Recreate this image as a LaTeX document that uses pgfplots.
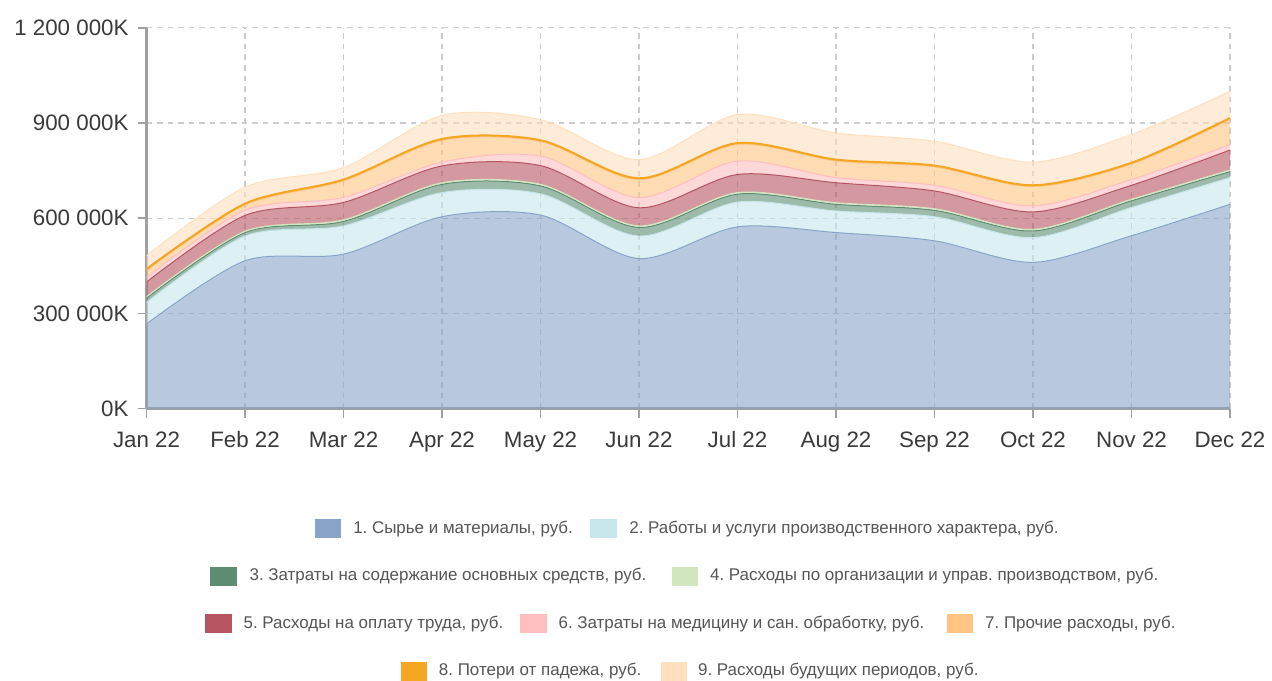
\documentclass[border=0pt]{standalone}
\usepackage{fontspec}
\setmainfont{Liberation Sans}
\usepackage{pgfplots}
\usepackage{pgfplotstable}
\usepgfplotslibrary{fillbetween}
\pgfplotsset{compat=1.18}
\frenchspacing

\definecolor{c1}{HTML}{88A5C9}
\definecolor{c2}{HTML}{C6E6EC}
\definecolor{c3}{HTML}{5E8C72}
\definecolor{c4}{HTML}{D2E6BD}
\definecolor{c5}{HTML}{B65461}
\definecolor{c6}{HTML}{FFBEC0}
\definecolor{c7}{HTML}{FFC482}
\definecolor{c8}{HTML}{F5A623}
\definecolor{c9}{HTML}{FFDFBE}
\definecolor{labelgray}{HTML}{3A3A3A}
\definecolor{leggray}{HTML}{555555}
\definecolor{axisgray}{HTML}{A0A0A0}
\definecolor{gridgray}{HTML}{CCCCCC}

% values in thousands of "K" units (267 = 267 000K)
\pgfplotstableread{
m s1 s2 s3 s4 s5 s6 s7 s8 s9
0  267 68 13 5 46 15 22 4 42
1  466 78 11 4 50 16 17 4 52
2  487 89 14 5 55 16 52 4 38
3  605 76 26 5 53 12 69 4 74
4  610 67 25 5 59 30 46 4 65
5  473 71 27 5 57 32 57 4 59
6  573 78 25 5 57 42 53 4 90
7  555 68 21 5 63 16 53 4 84
8  529 76 20 5 56 18 58 4 77
9  461 78 21 5 55 19 61 4 73
10 545 89 21 5 44 18 49 4 89
11 644 84 19 5 63 17 80 4 84
}\costs

\begin{document}
\begin{tikzpicture}
\begin{axis}[
  at={(0,0)}, anchor=south west,
  scale only axis, width=543.5pt, height=191pt,
  xmin=0, xmax=11, ymin=0, ymax=1200,
  xtick={0,...,11},
  xticklabels={Jan 22,Feb 22,Mar 22,Apr 22,May 22,Jun 22,Jul 22,Aug 22,Sep 22,Oct 22,Nov 22,Dec 22},
  ytick={0,300,600,900,1200},
  yticklabels={0K,300 000K,600 000K,900 000K,1 200 000K},
  axis x line*=bottom, axis y line*=left,
  axis line style={draw=axisgray, line width=1.2pt},
  tick style={draw=axisgray, line width=0.8pt},
  tick align=outside, major tick length=4.5pt,
  xmajorgrids, ymajorgrids,
  grid style={draw=gridgray, line width=0.6pt, dash pattern=on 2.8pt off 2.5pt},
  ticklabel style={font=\fontsize{11.2}{13}\selectfont, text=labelgray},
  xticklabel style={yshift=-3.5pt},
  yticklabel style={xshift=-1pt},
]
\addplot[name path=b0, draw=none] table[x=m, y expr=0] {\costs};
\addplot[name path=b1, draw=c1, line width=0.5pt, smooth] table[x=m, y expr=\thisrow{s1}] {\costs};
\addplot[name path=b2, draw=c2, line width=0.5pt, smooth] table[x=m, y expr=\thisrow{s1}+\thisrow{s2}] {\costs};
\addplot[name path=b3, draw=c3, line width=0.5pt, smooth] table[x=m, y expr=\thisrow{s1}+\thisrow{s2}+\thisrow{s3}] {\costs};
\addplot[name path=b4, draw=c4, line width=0.5pt, smooth] table[x=m, y expr=\thisrow{s1}+\thisrow{s2}+\thisrow{s3}+\thisrow{s4}] {\costs};
\addplot[name path=b5, draw=c5, line width=0.5pt, smooth] table[x=m, y expr=\thisrow{s1}+\thisrow{s2}+\thisrow{s3}+\thisrow{s4}+\thisrow{s5}] {\costs};
\addplot[name path=b6, draw=c6, line width=0.5pt, smooth] table[x=m, y expr=\thisrow{s1}+\thisrow{s2}+\thisrow{s3}+\thisrow{s4}+\thisrow{s5}+\thisrow{s6}] {\costs};
\addplot[name path=b7, draw=c7, line width=0.5pt, smooth] table[x=m, y expr=\thisrow{s1}+\thisrow{s2}+\thisrow{s3}+\thisrow{s4}+\thisrow{s5}+\thisrow{s6}+\thisrow{s7}] {\costs};
\addplot[name path=b8, draw=c8, line width=1pt, smooth] table[x=m, y expr=\thisrow{s1}+\thisrow{s2}+\thisrow{s3}+\thisrow{s4}+\thisrow{s5}+\thisrow{s6}+\thisrow{s7}+\thisrow{s8}] {\costs};
\addplot[name path=b9, draw=c9, line width=0.5pt, smooth] table[x=m, y expr=\thisrow{s1}+\thisrow{s2}+\thisrow{s3}+\thisrow{s4}+\thisrow{s5}+\thisrow{s6}+\thisrow{s7}+\thisrow{s8}+\thisrow{s9}] {\costs};
\addplot[fill=c1, fill opacity=0.6, draw=none] fill between[of=b1 and b0];
\addplot[fill=c2, fill opacity=0.6, draw=none] fill between[of=b2 and b1];
\addplot[fill=c3, fill opacity=0.6, draw=none] fill between[of=b3 and b2];
\addplot[fill=c4, fill opacity=0.6, draw=none] fill between[of=b4 and b3];
\addplot[fill=c5, fill opacity=0.6, draw=none] fill between[of=b5 and b4];
\addplot[fill=c6, fill opacity=0.6, draw=none] fill between[of=b6 and b5];
\addplot[fill=c7, fill opacity=0.6, draw=none] fill between[of=b7 and b6];
\addplot[fill=c8, fill opacity=0.6, draw=none] fill between[of=b8 and b7];
\addplot[fill=c9, fill opacity=0.6, draw=none] fill between[of=b9 and b8];
\end{axis}
% legend
\begin{scope}[every node/.style={font=\fontsize{8.5}{10}\selectfont, text=leggray, anchor=west, inner sep=0pt}]
\fill[c1] (84.5pt,-65pt) rectangle ++(13.3pt,9.5pt);    \node at (103.5pt,-60.25pt) {1. Сырье и материалы, руб.};
\fill[c2] (222.5pt,-65pt) rectangle ++(13.3pt,9.5pt);   \node at (242pt,-60.25pt) {2. Работы и услуги производственного характера, руб.};
\fill[c3] (32pt,-88.75pt) rectangle ++(13.3pt,9.5pt);   \node at (51.5pt,-84pt) {3. Затраты на содержание основных средств, руб.};
\fill[c4] (263.5pt,-88.75pt) rectangle ++(13.3pt,9.5pt);\node at (282.5pt,-84pt) {4. Расходы по организации и управ. производством, руб.};
\fill[c5] (29.5pt,-112.75pt) rectangle ++(13.3pt,9.5pt);\node at (48.5pt,-108pt) {5. Расходы на оплату труда, руб.};
\fill[c6] (187.5pt,-112.75pt) rectangle ++(13.3pt,9.5pt);\node at (206.5pt,-108pt) {6. Затраты на медицину и сан. обработку, руб.};
\fill[c7] (401.5pt,-112.75pt) rectangle ++(13.3pt,9.5pt);\node at (420.5pt,-108pt) {7. Прочие расходы, руб.};
\fill[c8] (127.5pt,-136.4pt) rectangle ++(13.3pt,9.5pt);\node at (146.5pt,-131.7pt) {8. Потери от падежа, руб.};
\fill[c9] (258pt,-136.4pt) rectangle ++(13.3pt,9.5pt);  \node at (276.5pt,-131.7pt) {9. Расходы будущих периодов, руб.};
\end{scope}
\path (-73.5pt,-136.5pt) rectangle (562.5pt,205pt);
\end{tikzpicture}
\end{document}
